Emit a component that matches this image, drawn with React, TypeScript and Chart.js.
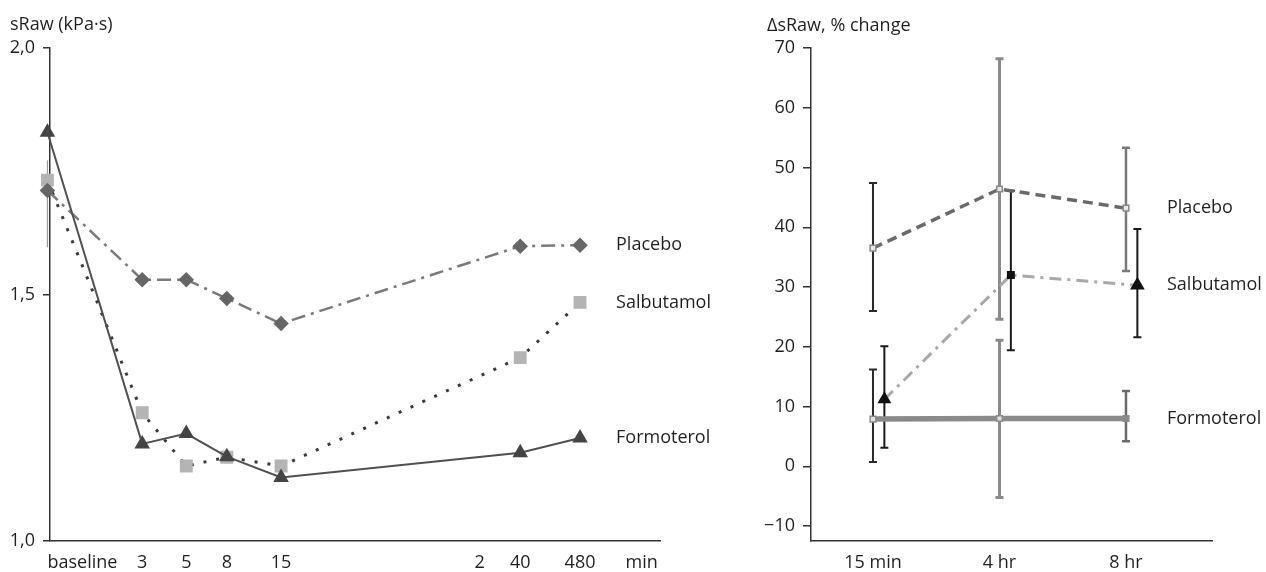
import React, { useEffect, useRef } from 'react';
import { Chart, registerables } from 'chart.js';
Chart.register(...registerables);

const FONT_FAMILY = '"Open Sans", "Noto Sans", sans-serif';
const FONT_SIZE = 18;
const TEXT = '#231f20';
const AXIS = '#333333';

// ---------- Left panel: sRaw (kPa·s) over time (log time axis, baseline plotted at 1) ----------
const leftTimes = [1, 3, 5, 8, 15, 240, 480];
const leftXTickValues = [1, 3, 5, 8, 15, 150, 240, 480, 980];
const leftXTickLabels = ['baseline', '3', '5', '8', '15', '2', '40', '480', 'min'];
const leftYTickValues = [1.0, 1.5, 2.0];
const leftYTickLabels = ['1,0', '1,5', '2,0'];
const placeboSRaw = [1.711, 1.53, 1.53, 1.492, 1.441, 1.598, 1.6];
const salbutamolSRaw = [1.732, 1.26, 1.152, 1.17, 1.152, 1.372, 1.484];
const formoterolSRaw = [1.829, 1.197, 1.218, 1.171, 1.129, 1.179, 1.209];
const placeboBaselineLow = [1.596, null, null, null, null, null, null];
const placeboBaselineHigh = [1.772, null, null, null, null, null, null];

// ---------- Right panel: ΔsRaw, % change ----------
const rightCats = [1, 2, 3];
const rightXTickLabels = ['15 min', '4 hr', '8 hr'];
const rightYTickValues = [-10, 0, 10, 20, 30, 40, 50, 60, 70];
const rightYTickLabels = ['\u221210', '0', '10', '20', '30', '40', '50', '60', '70'];
const salbutamolShift = 0.09;
const placeboPct = [36.5, 46.4, 43.2];
const placeboLow = [26.0, 24.6, 32.7];
const placeboHigh = [47.4, 68.2, 53.3];
const salbutamolPct = [11.2, 32.0, 30.3];
const salbutamolLow = [3.1, 19.4, 21.6];
const salbutamolHigh = [20.1, 46.1, 39.7];
const formoterolPct = [7.9, 8.0, 8.0];
const formoterolLow = [0.7, -5.2, 4.2];
const formoterolHigh = [16.2, 21.1, 12.6];

const errorBarPlugin = {
  id: 'errorBars',
  beforeDatasetsDraw(chart: any) {
    const ctx = chart.ctx;
    const ys = chart.scales.y;
    chart.data.datasets.forEach((ds: any, i: number) => {
      const e = ds.errorBars;
      if (!e) return;
      const meta = chart.getDatasetMeta(i);
      ctx.save();
      e.low.forEach((lo: number | null, j: number) => {
        const hi = e.high[j];
        if (lo == null || hi == null) return;
        const x = meta.data[j].x;
        const y1 = ys.getPixelForValue(lo);
        const y2 = ys.getPixelForValue(hi);
        ctx.strokeStyle = Array.isArray(e.color) ? e.color[j] : e.color;
        ctx.lineWidth = Array.isArray(e.width) ? e.width[j] : e.width;
        ctx.beginPath();
        ctx.moveTo(x, y1);
        ctx.lineTo(x, y2);
        if (e.cap > 0) {
          ctx.moveTo(x - e.cap, y1);
          ctx.lineTo(x + e.cap, y1);
          ctx.moveTo(x - e.cap, y2);
          ctx.lineTo(x + e.cap, y2);
        }
        ctx.stroke();
      });
      ctx.restore();
    });
  },
};

const textPlugin = {
  id: 'panelText',
  afterDraw(chart: any) {
    const o = chart.options.plugins.panelText;
    if (!o) return;
    const ctx = chart.ctx;
    const xs = chart.scales.x;
    const ys = chart.scales.y;
    ctx.save();
    ctx.fillStyle = TEXT;
    ctx.font = `${o.size}px ${FONT_FAMILY}`;
    ctx.textBaseline = 'middle';
    ctx.textAlign = 'left';
    ctx.fillText(o.title, o.titleX, o.titleY);
    const lx = xs.getPixelForValue(o.labelXValue) + o.labelDx;
    chart.data.datasets.forEach((ds: any) => {
      const last = ds.data[ds.data.length - 1];
      ctx.fillText(ds.label, lx, ys.getPixelForValue(last.y) + (ds.labelDy || 0));
    });
    if (o.xTicks) {
      const ty = chart.chartArea.bottom + o.xTickDy;
      o.xTicks.values.forEach((v: number, i: number) => {
        const px = xs.getPixelForValue(v);
        ctx.textAlign = i === 0 && o.xTicks.firstStart ? 'left' : 'center';
        ctx.fillText(o.xTicks.labels[i], px, ty);
      });
    }
    ctx.restore();
  },
};

function pts(xs: number[], ys: number[], shift = 0) {
  return xs.map((x, i) => ({ x: x + shift, y: ys[i] }));
}

function LeftPanel() {
  const ref = useRef<HTMLCanvasElement>(null);
  useEffect(() => {
    const chart = new Chart(ref.current!, {
      type: 'line',
      data: {
        datasets: [
          {
            label: 'Formoterol',
            data: pts(leftTimes, formoterolSRaw),
            borderColor: '#505050',
            borderWidth: 2,
            pointStyle: 'triangle',
            pointRadius: 7,
            pointBackgroundColor: '#454545',
            pointBorderColor: '#454545',
            clip: false,
          },
          {
            label: 'Placebo',
            data: pts(leftTimes, placeboSRaw),
            borderColor: '#7a7a7a',
            borderWidth: 2.5,
            borderDash: [14, 6, 3, 6],
            pointStyle: 'rectRot',
            pointRadius: 6,
            pointBackgroundColor: '#666666',
            pointBorderColor: '#666666',
            clip: false,
            errorBars: { low: placeboBaselineLow, high: placeboBaselineHigh, color: '#9a9a9a', width: 1.2, cap: 0 },
          } as any,
          {
            label: 'Salbutamol',
            data: pts(leftTimes, salbutamolSRaw),
            borderColor: '#3a3a3a',
            borderWidth: 3,
            borderDash: [3, 10],
            pointStyle: 'rect',
            pointRadius: 7,
            pointBackgroundColor: '#b4b4b4',
            pointBorderColor: '#b4b4b4',
            clip: false,
          },
        ],
      },
      options: {
        animation: false,
        responsive: false,
        maintainAspectRatio: false,
        layout: { padding: { top: 48, right: 65, left: 0, bottom: 0 } },
        plugins: {
          legend: { display: false },
          tooltip: { enabled: false },
          panelText: {
            size: FONT_SIZE,
            title: 'sRaw (kPa\u00b7s)',
            titleX: 10,
            titleY: 25,
            labelXValue: 480,
            labelDx: 36,
            xTicks: { values: leftXTickValues, labels: leftXTickLabels, firstStart: true },
            xTickDy: 22,
          },
        } as any,
        scales: {
          x: {
            type: 'logarithmic',
            min: 1.03,
            max: 1213,
            grid: { display: false, drawTicks: false },
            border: { display: true, color: AXIS, width: 1.5 },
            ticks: { display: false },
            afterFit(s: any) { s.height = 31; },
          },
          y: {
            min: 1,
            max: 2,
            afterBuildTicks(s: any) { s.ticks = leftYTickValues.map((v) => ({ value: v })); },
            ticks: {
              callback: (_v: any, i: number) => leftYTickLabels[i],
              color: TEXT,
              font: { family: FONT_FAMILY, size: FONT_SIZE },
              padding: 8,
            },
            grid: { drawOnChartArea: false, tickLength: 7, color: AXIS, lineWidth: 1.5 },
            border: { display: true, color: AXIS, width: 1.5 },
            afterFit(s: any) { s.width = 50; },
          },
        },
      } as any,
      plugins: [errorBarPlugin, textPlugin],
    });
    return () => chart.destroy();
  }, []);
  return <canvas ref={ref} width={725} height={572} style={{ position: 'absolute', left: 0, top: 0, width: 725, height: 572 }} />;
}

function RightPanel() {
  const ref = useRef<HTMLCanvasElement>(null);
  useEffect(() => {
    const chart = new Chart(ref.current!, {
      type: 'line',
      data: {
        datasets: [
          {
            label: 'Salbutamol',
            data: pts(rightCats, salbutamolPct, salbutamolShift),
            borderColor: '#a8a8a8',
            borderWidth: 3,
            borderDash: [12, 6, 3, 6],
            pointStyle: ['triangle', 'rect', 'triangle'],
            pointRadius: [5, 3.5, 5.5],
            pointBackgroundColor: '#111111',
            pointBorderColor: '#111111',
            clip: false,
            errorBars: { low: salbutamolLow, high: salbutamolHigh, color: '#1a1a1a', width: 2, cap: 4 },
          } as any,
          {
            label: 'Placebo',
            data: pts(rightCats, placeboPct),
            borderColor: '#6a6a6a',
            borderWidth: 3.5,
            borderDash: [10, 6],
            pointStyle: 'rect',
            pointRadius: 4,
            pointBackgroundColor: '#e8e8e8',
            pointBorderColor: '#888888',
            pointBorderWidth: 1.5,
            clip: false,
            errorBars: { low: placeboLow, high: placeboHigh, color: ['#2a2a2a', '#8a8a8a', '#7a7a7a'], width: [2, 3, 2.5], cap: 4 },
          } as any,
          {
            label: 'Formoterol',
            data: pts(rightCats, formoterolPct),
            borderColor: '#8a8a8a',
            borderWidth: 5.5,
            pointStyle: 'rect',
            pointRadius: 4,
            pointBackgroundColor: ['#e0e0e0', '#e0e0e0', '#8a8a8a'],
            pointBorderColor: '#8a8a8a',
            pointBorderWidth: 1.5,
            clip: false,
            errorBars: { low: formoterolLow, high: formoterolHigh, color: ['#2a2a2a', '#8a8a8a', '#6a6a6a'], width: [2, 3, 2.5], cap: 4 },
          } as any,
        ],
      },
      options: {
        animation: false,
        responsive: false,
        maintainAspectRatio: false,
        layout: { padding: { top: 48, right: 54, left: 0, bottom: 0 } },
        plugins: {
          legend: { display: false },
          tooltip: { enabled: false },
          panelText: {
            size: FONT_SIZE,
            title: '\u0394sRaw, % change',
            titleX: 42,
            titleY: 26,
            labelXValue: 3,
            labelDx: 41,
          },
        } as any,
        scales: {
          x: {
            type: 'linear',
            min: 0.51,
            max: 3.68,
            afterBuildTicks(s: any) { s.ticks = rightCats.map((v) => ({ value: v })); },
            ticks: {
              callback: (_v: any, i: number) => rightXTickLabels[i],
              color: TEXT,
              font: { family: FONT_FAMILY, size: FONT_SIZE },
              padding: 11,
              maxRotation: 0,
            },
            grid: { display: false, drawTicks: false },
            border: { display: true, color: AXIS, width: 1.5 },
            afterFit(s: any) { s.height = 31; },
          },
          y: {
            min: -12.5,
            max: 70,
            afterBuildTicks(s: any) { s.ticks = rightYTickValues.map((v) => ({ value: v })); },
            ticks: {
              callback: (_v: any, i: number) => rightYTickLabels[i],
              color: TEXT,
              font: { family: FONT_FAMILY, size: FONT_SIZE },
              padding: 8,
            },
            grid: { drawOnChartArea: false, tickLength: 8, color: AXIS, lineWidth: 1.5 },
            border: { display: true, color: AXIS, width: 1.5 },
            afterFit(s: any) { s.width = 86; },
          },
        },
      } as any,
      plugins: [errorBarPlugin, textPlugin],
    });
    return () => chart.destroy();
  }, []);
  return <canvas ref={ref} width={541} height={572} style={{ position: 'absolute', left: 725, top: 0, width: 541, height: 572 }} />;
}

export default function App() {
  return (
    <div style={{ position: 'fixed', left: 0, top: 0, width: 1266, height: 572, background: '#ffffff' }}>
      <LeftPanel />
      <RightPanel />
    </div>
  );
}
